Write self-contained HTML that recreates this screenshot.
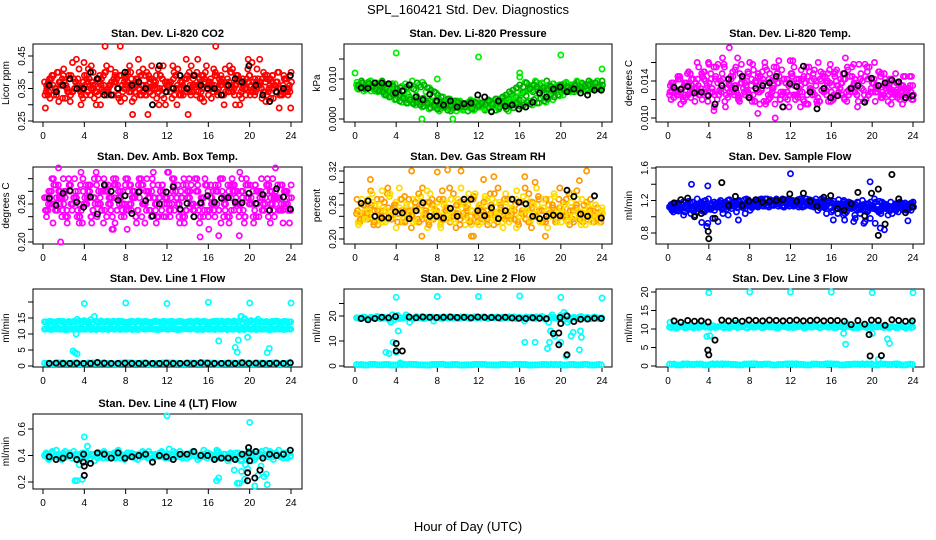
<!DOCTYPE html>
<html><head><meta charset="utf-8"><style>
html,body{margin:0;padding:0;background:#fff;}
svg{display:block;font-family:"Liberation Sans",Arial,sans-serif;}
</style></head><body>
<svg id="chart" width="936" height="540" viewBox="0 0 936 540" xmlns="http://www.w3.org/2000/svg">
<text x="468" y="14" text-anchor="middle" font-size="13">SPL_160421  Std. Dev. Diagnostics</text>
<text x="468" y="531" text-anchor="middle" font-size="13">Hour of Day (UTC)</text>
</svg>
<script>
const xTicks=[0,4,8,12,16,20,24];
const co2A=[0.37,0.33,0.38,0.35,0.40,0.36,0.32,0.39,0.34,0.37,0.41,0.35,0.33,0.38,0.36,0.30,0.39,0.34,0.42,0.36,0.33,0.38,0.48,0.35,0.37,0.40,0.32,0.36,0.39,0.34,0.27,0.38,0.35,0.41,0.33,0.37,0.36,0.32,0.39,0.35,0.37,0.34,0.40,0.36,0.33,0.38,0.35,0.42,0.36,0.34,0.39,0.37,0.33,0.36,0.40,0.35,0.38,0.34,0.37,0.41,0.36,0.33,0.38,0.35,0.39,0.34,0.37,0.36,0.40,0.33,0.38,0.35];
const co2B=[0.34,0.38,0.36,0.33,0.37,0.39,0.35,0.31,0.38,0.36,0.34,0.43,0.37,0.35,0.32,0.38,0.36,0.40,0.34,0.37,0.39,0.33,0.36,0.38,0.35,0.31,0.37,0.40,0.34,0.36,0.38,0.33,0.39,0.35,0.42,0.36,0.34,0.38,0.30,0.37,0.35,0.39,0.33,0.36,0.44,0.34,0.38,0.36,0.32,0.39,0.35,0.37,0.41,0.34,0.36,0.30,0.38,0.35,0.33,0.39,0.37,0.35,0.44,0.34,0.38,0.36,0.32,0.37,0.35,0.39,0.34,0.29];
const co2K=[0.36,0.34,0.36,0.38,0.35,0.35,0.40,0.38,0.33,0.33,0.35,0.40,0.36,0.37,0.35,0.30,0.42,0.34,0.35,0.39,0.35,0.39,0.36,0.35,0.35,0.33,0.36,0.38,0.37,0.42,0.36,0.33,0.31,0.34,0.35,0.39];
const presA=[.0085,.0075,.009,.008,.0095,.0085,.009,.0078,.0088,.0082,.0075,.007,.0068,.006,.0055,.0062,.005,.0045,.0052,.004,.0048,.0038,.0042,.0035,.0032,.004,.0028,.0035,.0025,.0038,.003,.0022,.0035,.0028,.0042,.0032,.003,.0038,.0026,.0042,.0033,.004,.0036,.0045,.0038,.005,.0042,.0055,.006,.0068,.0072,.0078,.0085,.008,.009,.0075,.0085,.008,.0072,.0078,.0075,.0082,.007,.0078,.0085,.0072,.008,.0076,.0084,.0074,.0079,.0082];
const presB=[.0075,.0095,.0078,.0092,.0085,.007,.0082,.0095,.0075,.0068,.0088,.006,.0058,.007,.0048,.0055,.0042,.0058,.004,.0052,.0035,.0045,.003,.0042,.0025,.0035,.0045,.002,.003,.0042,.0028,.0035,.002,.0045,.0025,.004,.0035,.0022,.0048,.003,.0038,.0025,.0045,.0032,.005,.0038,.0055,.0048,.0065,.0058,.0078,.0068,.0092,.0085,.0072,.0095,.0078,.0088,.0082,.0068,.0088,.0072,.0085,.0068,.0092,.0078,.0086,.007,.0088,.0076,.0083,.0077];
const presOutX=[4,12,20,24,0,16,6.5,9.5,8,16];
const presOutY=[.0165,.0155,.016,.0125,.0115,.0115,0,0,.010,.0105];
const presK=[.0078,.0077,.009,.009,.0088,.0065,.007,.0085,.0055,.0048,.0062,.0045,.0035,.0045,.003,.0038,.004,.006,.0055,.0018,.0045,.0032,.0035,.0025,.003,.0042,.0065,.0055,.0075,.008,.0068,.0075,.0065,.006,.0072,.0072];
const tempA=[.0125,.0135,.013,.0145,.012,.0138,.0128,.0142,.0132,.0125,.015,.0135,.0128,.0155,.012,.014,.0158,.0132,.0145,.0125,.0165,.0138,.0128,.015,.0135,.0118,.0145,.013,.016,.0125,.014,.0115,.0138,.0152,.0122,.0135,.0148,.012,.0142,.0128,.0138,.0155,.0125,.0135,.0118,.0145,.013,.0152,.0122,.014,.0132,.0148,.0128,.0145,.0135,.0125,.0142,.013,.0155,.0128,.0138,.0132,.0145,.0125,.0138,.0128,.0135,.0122,.0132,.0125,.013,.0128];
const tempB=[.012,.0132,.0145,.0128,.0138,.0125,.0142,.0118,.0135,.0148,.0128,.016,.0132,.0142,.0125,.0148,.0112,.0138,.0128,.0155,.0122,.0142,.0135,.0125,.0158,.0138,.0128,.0142,.0118,.0148,.0132,.0155,.012,.0128,.0142,.0162,.0125,.0138,.0112,.0145,.0125,.0132,.0142,.0115,.015,.0128,.014,.0118,.0148,.0125,.0138,.012,.0152,.0132,.0142,.0118,.0132,.0158,.0125,.0142,.0118,.015,.0128,.0142,.0132,.0122,.0148,.0135,.0115,.0128,.0122,.0135];
const tempOutX=[6,10.5,4.5,8.8];
const tempOutY=[.0176,.0100,.0108,.0105];
const tempK=[.0133,.0131,.0134,.0127,.0128,.0124,.0115,.0135,.0142,.0132,.0145,.0122,.0132,.0135,.0138,.0145,.0112,.0137,.0134,.0156,.0128,.0110,.0132,.0122,.0124,.0148,.0132,.0135,.0117,.0143,.0135,.0138,.0141,.0139,.0122,.0124];
const ambA=[.27,.25,.28,.26,.29,.24,.27,.30,.25,.28,.26,.23,.29,.27,.25,.31,.26,.28,.24,.27,.30,.25,.28,.26,.22,.29,.27,.25,.30,.26,.28,.24,.27,.29,.25,.27,.31,.26,.28,.24,.27,.25,.30,.26,.28,.23,.27,.29,.25,.28,.26,.30,.24,.27,.29,.25,.28,.26,.23,.29,.27,.25,.28,.30,.26,.24,.28,.27,.25,.29,.26,.27];
const ambB=[.25,.28,.23,.27,.26,.30,.25,.28,.27,.24,.29,.26,.27,.24,.30,.26,.28,.25,.29,.27,.23,.28,.26,.29,.25,.27,.24,.30,.26,.28,.25,.29,.23,.27,.28,.26,.24,.29,.27,.25,.30,.28,.26,.24,.29,.27,.25,.28,.26,.24,.29,.27,.25,.28,.30,.26,.24,.27,.29,.26,.28,.24,.27,.26,.29,.28,.25,.27,.29,.26,.28,.25];
const ambOutX=[1.7,17,19,3.5,22,1.5,22.5,6.8,15.2];
const ambOutY=[.20,.21,.21,.23,.23,.317,.317,.22,.208];
const ambK=[.269,.258,.277,.281,.263,.255,.271,.244,.290,.280,.266,.273,.245,.279,.265,.241,.260,.279,.287,.252,.261,.240,.262,.273,.263,.269,.270,.263,.262,.277,.261,.275,.250,.284,.271,.252];
const rhA=[.245,.23,.26,.24,.255,.225,.27,.235,.25,.28,.24,.26,.23,.25,.275,.24,.22,.255,.235,.26,.245,.23,.27,.25,.24,.285,.235,.255,.245,.22,.265,.24,.25,.23,.27,.245,.26,.235,.25,.28,.225,.245,.26,.24,.27,.235,.25,.23,.265,.245,.255,.22,.24,.275,.25,.235,.26,.245,.23,.27,.25,.24,.28,.235,.255,.245,.23,.265,.24,.25,.235,.245];
const rhB=[.23,.255,.24,.27,.235,.26,.245,.285,.23,.25,.24,.265,.29,.235,.255,.245,.27,.23,.25,.24,.265,.28,.235,.25,.225,.26,.245,.27,.235,.25,.29,.24,.26,.225,.245,.255,.23,.275,.24,.25,.265,.235,.245,.28,.23,.255,.27,.24,.25,.235,.265,.245,.29,.23,.255,.24,.27,.25,.23,.245,.26,.235,.255,.24,.27,.225,.25,.26,.235,.245,.24,.25];
const rhOutX=[1.5,5.5,8,9,10.3,11.5,16.5,22.5,6.5,11.3,21.8,12.5,13.5,17.5,18.5];
const rhOutY=[.305,.32,.318,.322,.32,.205,.31,.32,.205,.205,.303,.305,.31,.3,.205];
const rhK=[.263,.267,.240,.237,.237,.248,.246,.236,.250,.264,.240,.240,.237,.254,.240,.270,.270,.250,.241,.255,.236,.250,.270,.265,.262,.240,.236,.240,.242,.241,.286,.275,.244,.240,.276,.237];
const flowA=[1.12,1.16,1.08,1.14,1.18,1.10,1.13,1.07,1.15,1.11,1.19,1.09,1.14,1.12,1.16,1.20,1.10,1.15,1.13,1.18,1.11,1.16,1.21,1.14,1.17,1.19,1.12,1.22,1.16,1.14,1.20,1.18,1.13,1.17,1.21,1.15,1.19,1.16,1.12,1.20,1.17,1.14,1.18,1.22,1.15,1.19,1.13,1.17,1.08,1.14,1.11,1.18,1.06,1.13,1.16,1.09,1.04,1.15,1.12,0.98,1.10,1.14,1.07,1.16,1.11,1.18,1.09,1.13,1.15,1.10,1.12,1.08];
const flowB=[1.15,1.09,1.17,1.12,1.06,1.15,1.10,1.02,1.13,1.17,1.08,1.22,1.11,1.16,1.13,1.09,1.18,1.12,1.17,1.14,1.20,1.13,1.16,1.19,1.12,1.15,1.21,1.17,1.13,1.19,1.16,1.22,1.18,1.14,1.17,1.20,1.13,1.18,1.22,1.15,1.19,1.16,1.12,1.17,1.21,1.14,1.18,1.11,1.16,1.04,1.12,0.96,1.15,1.10,1.02,1.17,1.12,0.94,1.08,1.14,0.92,1.06,1.18,1.10,1.13,1.04,1.16,1.12,1.09,1.14,1.11,1.13];
const flowOutX=[2.3,3.9,12,3.8,19.8,3.3,23.5,20.8,21.2];
const flowOutY=[1.40,1.38,1.53,0.88,1.43,0.93,0.95,0.86,0.84];
const flowK=[1.17,1.21,1.23,1.00,1.04,0.82,0.98,1.42,1.14,1.25,1.14,1.19,1.21,1.18,1.19,1.20,1.21,1.28,1.19,1.29,1.19,1.13,1.24,1.26,1.10,1.08,1.16,1.30,1.01,1.29,1.34,0.91,1.52,1.22,1.05,1.12];
const flowKoX=[4,20.6];
const flowKoY=[0.73,0.77];
const l1Hi=[13.8,13.6,13.9,13.7,14.0,13.8,13.6,13.9,13.7,13.8,14.1,13.7,13.9,13.8,13.6,14.0,13.8,13.7,13.9,13.8,14.0,13.7,13.9,13.8,13.6,13.9,13.8,14.0,13.7,13.9,13.8,13.6,14.0,13.8,13.7,13.9,13.8,14.0,13.7,13.9,13.8,13.6,13.9,13.8,14.0,13.7,13.9,13.8,13.6,13.9,14.0,13.8,13.7,13.9,13.8,14.1,13.7,15.5,14.5,13.8,14.2,13.6,14.6,13.9,13.8,13.7,13.9,14.0,13.8,13.7,13.9,13.8];
const l1Lo=[11.5,11.7,11.4,11.6,11.8,11.5,11.3,11.6,11.5,11.7,11.4,11.6,11.5,11.8,11.6,11.4,11.7,11.5,11.6,11.8,11.5,11.7,11.4,11.6,11.5,11.7,11.6,11.4,11.8,11.5,11.6,11.7,11.5,11.4,11.6,11.8,11.5,11.7,11.6,11.4,11.5,11.7,11.6,11.8,11.5,11.6,11.4,11.7,11.5,11.6,11.8,11.5,11.7,11.4,11.6,11.5,11.7,11.6,11.4,11.8,11.5,11.6,11.7,11.5,11.6,11.4,11.7,11.5,11.6,11.8,11.5,11.6];
const l1Zero=[0.9,0.7,1.0,0.8,0.9,0.7,0.8,1.0,0.9,0.8,0.7,0.9,1.0,0.8,0.9,0.7,0.8,0.9,1.0,0.8,0.7,0.9,0.8,1.0,0.9,0.7,0.8,0.9,0.8,1.0,0.7,0.9,0.8,0.9,0.7,0.8];
const l1OutX=[4,8,12,16,20,24,2.9,3.1,3.3,3.2,17,18.6,18.8,18.9,19.8,21.7,21.9,19.2,19.5];
const l1OutY=[19.5,19.7,19.5,19.9,19.7,19.7,4.7,4.2,3.8,10.0,7.8,5.8,4.3,8.1,9.0,4.2,5.5,15.5,14.8];
const l1K=[0.8,0.9,0.8,0.8,0.9,0.8,0.8,1.1,0.9,0.8,0.8,0.9,0.8,0.8,0.9,0.8,0.8,0.9,0.8,0.8,0.9,0.8,1.0,0.9,0.8,0.8,0.9,0.8,1.0,0.8,0.9,0.8,0.8,0.9,0.8,1.0];
const l2Band=[19.3,19.0,19.6,18.9,19.4,19.2,19.8,19.0,19.5,19.3,17.5,18.5,20.2,19.1,19.4,19.6,19.0,19.5,19.3,19.7,19.1,19.4,19.6,19.2,19.5,19.0,19.3,19.7,19.2,19.5,19.1,19.4,19.6,19.0,19.3,19.5,19.2,19.7,19.1,19.4,19.3,19.6,19.0,19.5,19.2,19.4,19.7,19.1,19.3,18.0,19.4,19.5,19.0,19.3,19.8,18.8,17.5,20.5,19.2,19.0,19.4,20.5,18.5,19.3,19.1,19.6,19.2,19.4,19.0,19.5,19.3,19.2];
const l2Zero=[0.6,0.4,0.7,0.5,0.6,0.4,0.5,0.7,0.6,0.5,0.4,0.6,0.7,0.5,0.6,0.4,0.5,0.6,0.7,0.5,0.4,0.6,0.5,0.7,0.6,0.4,0.5,0.6,0.5,0.7,0.4,0.6,0.5,0.6,0.4,0.5];
const l2OutX=[4,8,12,16,20,24,3,3.3,3.7,4,4.2,17.5,18.7,18.9,19,19.4,20,20.5,21,21.2,21.8,21.9,22,16.5,20.3,4.4];
const l2OutY=[27.5,27.8,27.8,28,27.5,27.2,5.5,5.0,9.5,5.5,14,9.5,7,9.5,14,12,9.5,4,12,13.5,6.5,14,11.5,9.5,21.5,1.2];
const l2K=[19.0,18.5,19.0,19.5,19.3,19.8,6.0,19.6,19.3,19.6,19.5,19.4,19.5,19.6,19.4,19.5,19.3,19.6,19.5,19.4,19.3,19.5,19.2,19.1,19.0,19.3,19.1,18.9,13.0,19.4,20,17.8,18.7,18.8,19.1,19.0];
const l2KoX=[4,4,19.8,19.8,20,20.6];
const l2KoY=[9,6,8.5,13.2,17,4.5];
const l3Band=[10.5,10.8,10.2,10.6,11.0,10.4,10.7,10.3,10.9,10.5,11.2,10.6,10.4,10.8,10.5,10.9,10.3,10.7,10.5,10.8,10.4,10.6,10.9,10.3,10.7,10.5,10.8,10.4,10.6,10.9,10.5,10.7,10.3,10.8,10.6,10.4,10.9,10.5,10.7,10.6,10.3,10.8,10.5,10.7,10.4,10.9,10.6,10.5,10.8,10.4,10.7,10.5,11.5,10.6,10.3,10.8,10.5,10.7,10.4,10.9,10.6,10.5,10.8,10.4,10.7,10.5,10.6,10.3,10.8,10.5,10.6,10.4];
const l3Zero=[0.5,0.3,0.6,0.4,0.5,0.3,0.4,0.6,0.5,0.4,0.3,0.5,0.6,0.4,0.5,0.3,0.4,0.5,0.6,0.4,0.3,0.5,0.4,0.6,0.5,0.3,0.4,0.5,0.4,0.6,0.3,0.5,0.4,0.5,0.3,0.4];
const l3OutX=[4,8,12,16,20,24,3.8,4.1,17.2,17.4,20,21.5,21.7,20.6,0.2,23.8];
const l3OutY=[19.8,20,20,20,19.8,19.8,8.0,8.2,8.8,5.9,8.8,7.3,6.1,1.8,11.8,11.6];
const l3K=[12.2,11.8,12.3,12.1,12.2,11.9,7.0,12.4,12.2,12.3,12.1,12.4,12.3,12.2,12.4,12.3,12.2,12.3,12.4,12.2,12.3,12.4,12.2,12.3,12.3,12.1,11.2,12.3,11.3,12.4,12.3,11.0,12.5,12.3,12.1,12.2];
const l3KoX=[3.9,4.0,19.7,19.8,20.9];
const l3KoY=[4.3,3.0,8.5,2.7,2.8];
const l4Band=[.40,.38,.42,.39,.41,.37,.43,.40,.38,.41,.39,.42,.40,.37,.41,.39,.42,.38,.40,.41,.39,.43,.38,.40,.42,.39,.41,.37,.40,.42,.38,.41,.39,.40,.43,.38,.41,.39,.42,.40,.38,.41,.39,.43,.40,.38,.41,.42,.39,.40,.44,.38,.41,.39,.42,.40,.38,.36,.41,.39,.42,.37,.40,.43,.41,.39,.42,.40,.44,.41,.39,.42];
const l4OutX=[4,4.3,3.1,3.3,3.5,3.8,12,12.2,20,17,16.8,18.5,18.8,19,19.2,19.6,19.8,20.2,20.5,20.8,21.1,21.4,21.7,21.6,19.5];
const l4OutY=[.54,.47,.21,.21,.33,.22,.70,.45,.65,.23,.21,.29,.19,.19,.28,.33,.30,.36,.17,.25,.32,.24,.18,.26,.22];
const l4K=[.39,.37,.38,.40,.37,.41,.34,.42,.41,.38,.42,.38,.39,.40,.41,.35,.40,.39,.37,.41,.41,.43,.40,.40,.37,.38,.38,.37,.41,.42,.43,.38,.41,.40,.41,.44];
const l4KoX=[4,4,3.9,19.8,19.8,20,19.9,20.5,21];
const l4KoY=[.32,.25,.35,.27,.21,.36,.46,.23,.29];

const NS='http://www.w3.org/2000/svg';
const svg=document.getElementById('chart');
const hoursC=[];for(let i=0;i<72;i++)hoursC.push(i/3+0.15);
const hoursB=[];for(let i=0;i<36;i++)hoursB.push(0.6+i*2/3);
const sh=(arr,d)=>arr.map(h=>h+d);
const rev=a=>a.slice().reverse();
const cols=[{l:33,r:302,x0:43,x24:291},{l:344,r:612,x0:355,x24:602},{l:656,r:924,x0:668,x24:913}];
const rows=[{t:44,b:122},{t:167,b:244},{t:289,b:367},{t:414,b:489}];
function mk(tag,attrs,parent){const e=document.createElementNS(NS,tag);for(const k in attrs)e.setAttribute(k,attrs[k]);(parent||svg).appendChild(e);return e;}
function panel(ci,ri,title,ylab,v1,p1,v2,p2,ticks,labels,color,series,blackSeries,nameKey,color2){
  const c=cols[ci],rw=rows[ri];
  const g=mk('g',{});
  
  
  const X=h=>c.x0+(c.x24-c.x0)*h/24;
  const Y=v=>p1+(p2-p1)*(v-v1)/(v2-v1);
  const box=mk('rect',{x:c.l,y:rw.t,width:c.r-c.l,height:rw.b-rw.t,fill:'none',stroke:'#000','stroke-width':1},g);
  
  
  const tt=mk('text',{x:(c.l+c.r)/2,y:rw.t-7,'text-anchor':'middle','font-size':11,'font-weight':'bold'},g);
  tt.textContent=title;
  
  
  const yl=mk('text',{x:0,y:0,'text-anchor':'middle','font-size':10,transform:`translate(${c.l-24},${(rw.t+rw.b)/2}) rotate(-90)`},g);
  yl.textContent=ylab;
  
  
  const ya=mk('line',{x1:c.l,x2:c.l,y1:Y(ticks[0]),y2:Y(ticks[ticks.length-1]),stroke:'#000'},g);
  
  
  ticks.forEach((t,i)=>{
    mk('line',{x1:c.l-5,x2:c.l,y1:Y(t),y2:Y(t),stroke:'#000'},g);
    if(labels[i]!==''){
      const lt=mk('text',{x:0,y:0,'text-anchor':'middle','font-size':10,transform:`translate(${c.l-8},${Y(t)}) rotate(-90)`},g);
      lt.textContent=labels[i];
      
      
    }
  });
  const xa=mk('line',{x1:X(0),x2:X(24),y1:rw.b,y2:rw.b,stroke:'#000'},g);
  
  
  xTicks.forEach(t=>{
    mk('line',{x1:X(t),x2:X(t),y1:rw.b,y2:rw.b+5,stroke:'#000'},g);
    const lt=mk('text',{x:X(t),y:rw.b+17,'text-anchor':'middle','font-size':10},g);
    lt.textContent=t;
    
    
  });
  const drawPts=(xs,ys,col,nm,sw)=>{
    xs.forEach((h,i)=>{
      const y=Y(ys[i]);
      if(y<rw.t-2||y>rw.b+2)return;
      const p=mk('circle',{cx:X(h).toFixed(1),cy:y.toFixed(1),r:2.6,fill:'none',stroke:col,'stroke-width':sw},g);
      
      
    });
  };
  series.forEach((s,k)=>drawPts(s[0],s[1],(color2&&k%2)?color2:color,nameKey+'-point',1.7));
  blackSeries.forEach(s=>drawPts(s[0],s[1],'#000',nameKey+'-mean-point',1.8));
}
function dense(A,B,out){
  const s=[[hoursC,A],[sh(hoursC,0.15),B],[sh(hoursC,0.08),rev(B)],[sh(hoursC,0.23),rev(A)],[sh(hoursC,0.04),B.slice(3).concat(B.slice(0,3))],[sh(hoursC,0.19),A.slice(5).concat(A.slice(0,5))]];
  if(out)s.push(out);
  return s;
}
panel(0,0,'Stan. Dev. Li-820 CO2','Licor ppm',0.45,56,0.25,121,[0.25,0.30,0.35,0.40,0.45],['0.25','','0.35','','0.45'],'#ff0000',dense(co2A,co2B),[[hoursB,co2K]],'co2');
panel(1,0,'Stan. Dev. Li-820 Pressure','kPa',0.010,79,0.000,119,[0,0.005,0.010,0.015],['0.000','','0.010',''],'#00ee00',dense(presA,presB,[presOutX,presOutY]),[[hoursB,presK]],'pressure','#00aa00');
panel(2,0,'Stan. Dev. Li-820 Temp.','degrees C',0.014,81,0.010,118,[0.010,0.012,0.014,0.016],['0.010','','0.014',''],'#ff00ff',dense(tempA,tempB,[tempOutX,tempOutY]),[[hoursB,tempK]],'temp');
panel(0,1,'Stan. Dev. Amb. Box Temp.','degrees C',0.26,204,0.20,242,[0.20,0.22,0.24,0.26,0.28,0.30],['0.20','','','0.26','',''],'#ff00ff',dense(ambA,ambB,[ambOutX,ambOutY]),[[hoursB,ambK]],'amb-box');
panel(1,1,'Stan. Dev. Gas Stream RH','percent',0.32,171,0.20,239,[0.20,0.22,0.24,0.26,0.28,0.30,0.32],['0.20','','','0.26','','','0.32'],'#ff9900',dense(rhA,rhB,[rhOutX,rhOutY]),[[hoursB,rhK]],'rh','#ffdd00');
panel(2,1,'Stan. Dev. Sample Flow','ml/min',1.6,168,0.8,233,[0.8,1.0,1.2,1.4,1.6],['0.8','','1.2','','1.6'],'#0000ff',dense(flowA,flowB,[flowOutX,flowOutY]),[[hoursB,flowK],[flowKoX,flowKoY]],'sample-flow');
panel(0,2,'Stan. Dev. Line 1 Flow','ml/min',15,318,0,366,[0,5,10,15,20],['0','5','10','15',''],'#00ffff',[[hoursC,l1Hi],[sh(hoursC,0.15),rev(l1Hi)],[hoursC,l1Lo],[sh(hoursC,0.15),rev(l1Lo)],[sh(hoursB,-0.45),l1Zero],[hoursB,l1Zero],[sh(hoursB,-0.22),rev(l1Zero)],[l1OutX,l1OutY]],[[hoursB,l1K]],'line1');
panel(1,2,'Stan. Dev. Line 2 Flow','ml/min',20,316,0,366,[0,10,20,25],['0','10','20',''],'#00ffff',[[hoursC,l2Band],[sh(hoursC,0.15),rev(l2Band)],[sh(hoursB,-0.45),l2Zero],[hoursB,l2Zero],[sh(hoursB,-0.22),rev(l2Zero)],[l2OutX,l2OutY]],[[hoursB,l2K],[l2KoX,l2KoY]],'line2');
panel(2,2,'Stan. Dev. Line 3 Flow','ml/min',10,329,0,366,[0,5,10,15,20],['0','5','10','15','20'],'#00ffff',[[hoursC,l3Band],[sh(hoursC,0.15),rev(l3Band)],[sh(hoursB,-0.45),l3Zero],[hoursB,l3Zero],[sh(hoursB,-0.22),rev(l3Zero)],[l3OutX,l3OutY]],[[hoursB,l3K],[l3KoX,l3KoY]],'line3');
panel(0,3,'Stan. Dev. Line 4 (LT) Flow','ml/min',0.6,429,0.2,482,[0.2,0.4,0.6],['0.2','0.4','0.6'],'#00ffff',[[hoursC,l4Band],[sh(hoursC,0.15),rev(l4Band)],[sh(hoursC,0.08),l4Band.slice(4).concat(l4Band.slice(0,4))],[l4OutX,l4OutY]],[[hoursB,l4K],[l4KoX,l4KoY]],'line4');
</script>
</body></html>
